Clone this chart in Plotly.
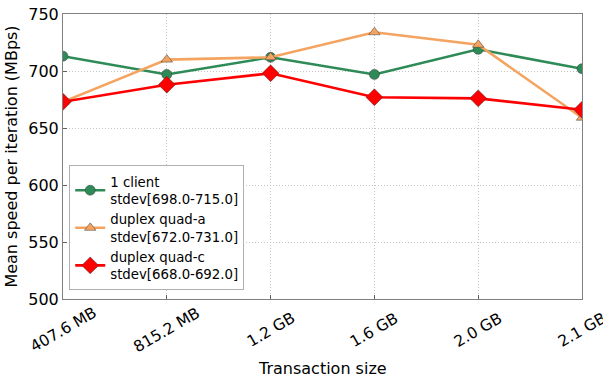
import plotly.graph_objects as go

sizes = ["407.6 MB", "815.2 MB", "1.2 GB", "1.6 GB", "2.0 GB", "2.1 GB"]
one_client = [713, 697, 712, 697, 719, 702]
quad_a = [673, 710, 712, 734, 723, 659]
quad_c = [673, 688, 698, 677, 676, 666]

series = [
    ("1 client<br>stdev[698.0-715.0]", one_client, "#2E8B57", "circle", 10),
    ("duplex quad-a<br>stdev[672.0-731.0]", quad_a, "#F4A460", "triangle-up", 10),
    ("duplex quad-c<br>stdev[668.0-692.0]", quad_c, "#FF0000", "diamond", 13),
]

xs = list(range(len(sizes)))
fig = go.Figure()
for name, vals, color, sym, sz in series:
    fig.add_trace(go.Scatter(
        x=xs, y=vals, name=name, mode="lines+markers", cliponaxis=True,
        line=dict(color=color, width=2.6),
        marker=dict(symbol=sym, size=sz, color=color,
                    line=dict(color="rgba(50,50,50,0.6)", width=0.8)),
    ))

font = "DejaVu Sans"
grid = dict(showgrid=True, gridcolor="#c4c4c4", griddash="1px,2px", gridwidth=1,
            showline=True, linecolor="#808080", linewidth=1, mirror=True,
            ticks="inside", ticklen=4, tickcolor="#606060", zeroline=False,
            automargin=False)

fig.update_layout(
    width=603, height=379,
    margin=dict(l=63, r=21, t=14, b=80),
    paper_bgcolor="white", plot_bgcolor="white",
    font=dict(family=font, size=16, color="black"),
    showlegend=True,
    legend=dict(x=0.012, y=0.03, xanchor="left", yanchor="bottom",
                bordercolor="#b0b0b0", borderwidth=1, bgcolor="white",
                font=dict(size=13.3), tracegroupgap=0, itemwidth=30),
)

# Category labels, rotated and centred under each tick
for i, lab in enumerate(sizes):
    fig.add_annotation(x=i, y=0, xref="x", yref="paper", text=lab,
                       textangle=-30, showarrow=False, xanchor="center",
                       yanchor="middle", yshift=-31, font=dict(size=15.5))

# x-axis title
fig.add_annotation(x=0.5, y=0, xref="paper", yref="paper", text="Transaction size",
                   showarrow=False, xanchor="center", yanchor="middle",
                   yshift=-69, font=dict(size=16))

fig.update_xaxes(
    tickmode="array", tickvals=xs, ticktext=[""] * len(sizes),
    range=[0, len(sizes) - 1],
    **grid,
)
fig.update_yaxes(
    range=[500, 750], dtick=50, tickfont=dict(size=16),
    title=dict(text="Mean speed per iteration (MBps)", font=dict(size=16), standoff=6),
    **grid,
)

fig.write_html("out.html")
